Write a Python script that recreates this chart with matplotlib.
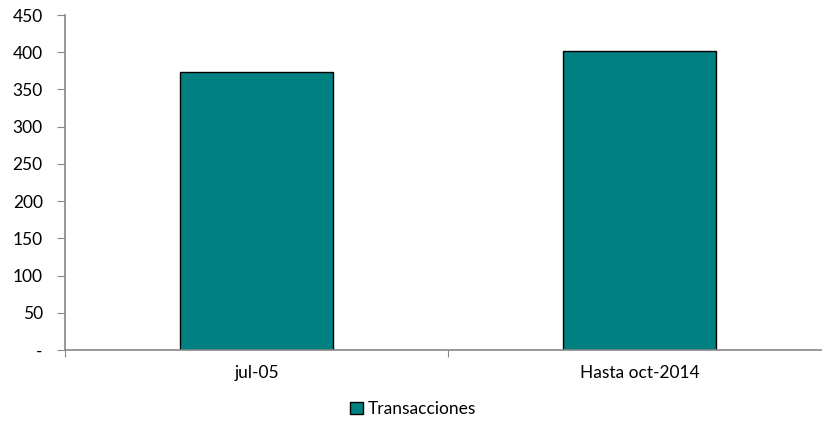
import matplotlib.pyplot as plt
import numpy as np

categories = ['jul-05', 'Hasta oct-2014']
transacciones = [374, 401]
yticks = [0, 50, 100, 150, 200, 250, 300, 350, 400, 450]
ytick_labels = ['-'] + [str(v) for v in yticks[1:]]

plt.rcParams['font.family'] = ['Lato', 'DejaVu Sans']
fs = 12.5

fig = plt.figure(figsize=(8.22, 4.21), dpi=100)
ax = fig.add_axes([65/822, 71/421, 766/822, 335/421])

x = np.arange(len(categories))
ax.bar(x, transacciones, width=0.4, color='#008080', edgecolor='black', linewidth=1.0,
       label='Transacciones', zorder=2)

ax.set_xlim(-0.5, 1.5)
ax.set_ylim(0, 450)
ax.set_yticks(yticks)
ax.set_yticklabels(ytick_labels, fontsize=fs)
ax.set_xticks([-0.5, 0.5, 1.5])
ax.set_xticklabels([])
ax.set_xticks(x, minor=True)
ax.set_xticklabels(categories, minor=True, fontsize=fs)
ax.tick_params(axis='x', which='minor', length=0, pad=11)
ax.tick_params(axis='x', which='major', length=5, color='#888888')
ax.tick_params(axis='y', length=6, color='#888888', pad=10)

for s in ['top', 'right']:
    ax.spines[s].set_visible(False)
for s in ['left', 'bottom']:
    ax.spines[s].set_color('#888888')
    ax.spines[s].set_linewidth(1.2)

fig.legend(loc='center', bbox_to_anchor=(413/822, 1 - 409/421), frameon=False,
           fontsize=fs, handlelength=0.75, handleheight=0.75, handletextpad=0.3)

fig.savefig('out.png', dpi=100)
